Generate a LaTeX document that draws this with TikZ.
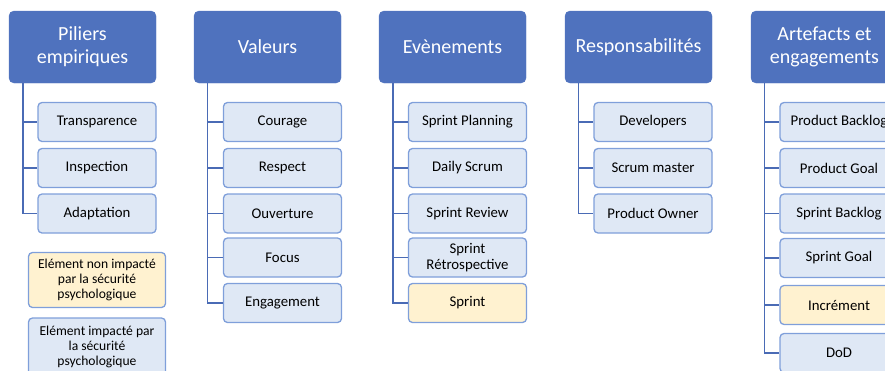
\documentclass[tikz,border=0pt]{standalone}
\usepackage{fontspec}
\setmainfont{Carlito}
\definecolor{hdrfill}{HTML}{4F72BE}
\definecolor{chfill}{HTML}{DFE8F5}
\definecolor{chdraw}{HTML}{7F9FDA}
\definecolor{ylfill}{HTML}{FFF2D0}
\definecolor{linec}{HTML}{4A6BB5}
\tikzset{
  hdr/.style={draw=hdrfill, fill=hdrfill, rounded corners=5pt, minimum width=147pt, minimum height=72pt, text=white, font=\fontsize{20}{23}\selectfont, align=center, inner sep=0pt},
  child/.style={draw=chdraw, line width=1.3pt, fill=chfill, rounded corners=4pt, minimum width=118pt, minimum height=39pt, font=\fontsize{14.8}{16}\selectfont, align=center, inner sep=0pt},
  ychild/.style={child, fill=ylfill},
  legend/.style={draw=chdraw, line width=1.3pt, rounded corners=4pt, minimum width=137pt, font=\fontsize{13.6}{15.3}\selectfont, align=center, inner sep=0pt},
  conn/.style={draw=linec, line width=1.2pt}
}
\begin{document}
\begin{tikzpicture}[x=1pt,y=-1pt]
\useasboundingbox (0,0) rectangle (885,370);
\clip (0,0) rectangle (885,370);
% headers
\node[hdr] (h1) at (82.5,47) {Piliers\\empiriques};
\node[hdr] (h2) at (267.5,47) {Valeurs};
\node[hdr] (h3) at (452.5,47) {Evènements};
\node[hdr] (h4) at (638.5,47) {Responsabilités};
\node[hdr] (h5) at (824.5,47) {Artefacts et\\engagements};
% column 1
\node[child] (c11) at (97,122) {Transparence};
\node[child] (c12) at (97,168) {Inspection};
\node[child] (c13) at (97,213.5) {Adaptation};
\coordinate (v1) at (23,83);
\draw[conn] (v1) |- (c11.west);
\draw[conn] (v1) |- (c12.west);
\draw[conn] (v1) |- (c13.west);
% column 2
\node[child] (c21) at (282.5,122) {Courage};
\node[child] (c22) at (282.5,168) {Respect};
\node[child] (c23) at (282.5,213.5) {Ouverture};
\node[child] (c24) at (282.5,257.5) {Focus};
\node[child] (c25) at (282.5,303) {Engagement};
\coordinate (v2) at (207.5,83);
\foreach \n in {c21,c22,c23,c24,c25} \draw[conn] (v2) |- (\n.west);
% column 3
\node[child] (c31) at (467.5,122) {Sprint Planning};
\node[child] (c32) at (467.5,168) {Daily Scrum};
\node[child] (c33) at (467.5,213.5) {Sprint Review};
\node[child] (c34) at (467.5,257.5) {Sprint\\Rétrospective};
\node[ychild] (c35) at (467.5,303) {Sprint};
\coordinate (v3) at (393,83);
\foreach \n in {c31,c32,c33,c34,c35} \draw[conn] (v3) |- (\n.west);
% column 4
\node[child] (c41) at (653,122) {Developers};
\node[child] (c42) at (653,168) {Scrum master};
\node[child] (c43) at (653,213.5) {Product Owner};
\coordinate (v4) at (578.5,83);
\foreach \n in {c41,c42,c43} \draw[conn] (v4) |- (\n.west);
% column 5
\node[child] (c51) at (839,122) {Product Backlog};
\node[child] (c52) at (839,168) {Product Goal};
\node[child] (c53) at (839,213.5) {Sprint Backlog};
\node[child] (c54) at (839,258) {Sprint Goal};
\node[ychild] (c55) at (839,305) {Incrément};
\node[child] (c56) at (839,353) {DoD};
\coordinate (v5) at (764.5,83);
\foreach \n in {c51,c52,c53,c54,c55,c56} \draw[conn] (v5) |- (\n.west);
% legend
\node[legend, fill=ylfill, minimum height=55pt] (l1) at (97,280) {Elément non impacté\\par la sécurité\\psychologique};
\node[legend, fill=chfill, minimum height=58pt] (l2) at (97,347) {Elément impacté par\\la sécurité\\psychologique};
\end{tikzpicture}
\end{document}
